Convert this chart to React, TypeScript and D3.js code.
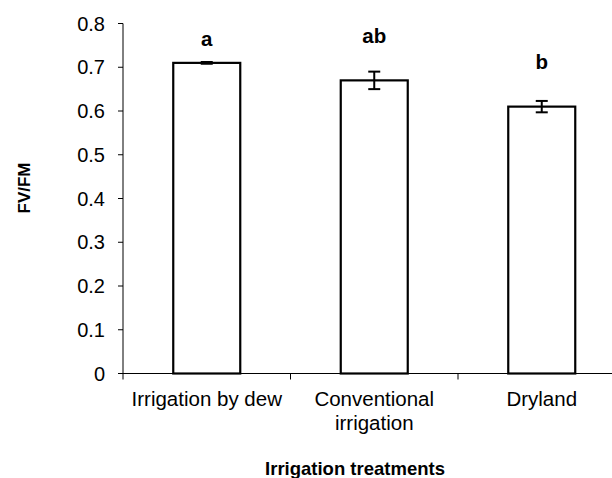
import React from "react";
import { scaleBand, scaleLinear } from "d3";

const categories = ["Irrigation by dew", "Conventional irrigation", "Dryland"];
const categoryLines = [["Irrigation by dew"], ["Conventional", "irrigation"], ["Dryland"]];
const fvfm = [0.71, 0.67, 0.61];
const stdErr = [0.002, 0.02, 0.013];
const letters = ["a", "ab", "b"];
const letterAt = [0.748, 0.755, 0.696];
const yTicks = [0, 0.1, 0.2, 0.3, 0.4, 0.5, 0.6, 0.7, 0.8];

const W = 612;
const H = 478;
const left = 123;
const top = 23.5;
const bottom = 373.5;
const font = "'Liberation Sans', Arial, sans-serif";

const App = () => {
  const x = scaleBand<string>()
    .domain(categories)
    .range([left, left + 502.5])
    .paddingInner(0.6)
    .paddingOuter(0.3);
  const y = scaleLinear().domain([0, 0.8]).range([bottom, top]);
  const step = x.step();
  const bw = x.bandwidth();

  return (
    <svg
      width={W}
      height={H}
      style={{ position: "absolute", left: 0, top: 0, background: "#fff" }}
      fontFamily={font}
    >
      {/* bars */}
      {categories.map((c, i) => (
        <rect
          key={c}
          x={x(c)!}
          y={y(fvfm[i])}
          width={bw}
          height={bottom - y(fvfm[i])}
          fill="#fff"
          stroke="#000"
          strokeWidth={2.2}
        />
      ))}

      {/* error bars */}
      {categories.map((c, i) => {
        const cx = x(c)! + bw / 2;
        const hi = y(fvfm[i] + stdErr[i]);
        const lo = y(fvfm[i] - stdErr[i]);
        return (
          <g key={"e" + c} stroke="#000" strokeWidth={2}>
            <line x1={cx} x2={cx} y1={hi} y2={lo} />
            <line x1={cx - 6} x2={cx + 6} y1={hi} y2={hi} />
            <line x1={cx - 6} x2={cx + 6} y1={lo} y2={lo} />
          </g>
        );
      })}

      {/* significance letters */}
      {categories.map((c, i) => (
        <text
          key={"l" + c}
          x={x(c)! + bw / 2}
          y={y(letterAt[i])}
          textAnchor="middle"
          fontWeight="bold"
          fontSize={20.5}
        >
          {letters[i]}
        </text>
      ))}

      {/* y axis */}
      <line x1={left} x2={left} y1={top} y2={bottom} stroke="#000" strokeWidth={1} />
      {yTicks.map((t) => (
        <g key={t}>
          <line x1={left - 5} x2={left} y1={y(t)} y2={y(t)} stroke="#000" strokeWidth={1} />
          <text x={105} y={y(t) + 7} textAnchor="end" fontSize={20}>
            {t === 0 ? "0" : t.toFixed(1)}
          </text>
        </g>
      ))}

      {/* x axis */}
      <line x1={left} x2={W} y1={bottom} y2={bottom} stroke="#000" strokeWidth={1} />
      {[0, 1, 2, 3].map((k) => (
        <line
          key={k}
          x1={left + k * step}
          x2={left + k * step}
          y1={bottom}
          y2={bottom + 6}
          stroke="#000"
          strokeWidth={1}
        />
      ))}
      {categories.map((c, i) => (
        <text key={"c" + c} x={x(c)! + bw / 2} y={406} textAnchor="middle" fontSize={20.5}>
          {categoryLines[i].map((ln, j) => (
            <tspan key={j} x={x(c)! + bw / 2} dy={j === 0 ? 0 : 23.5}>
              {ln}
            </tspan>
          ))}
        </text>
      ))}

      {/* axis titles */}
      <text x={355} y={475} textAnchor="middle" fontWeight="bold" fontSize={18.5}>
        Irrigation treatments
      </text>
      <text
        transform="translate(30,188) rotate(-90)"
        textAnchor="middle"
        fontWeight="bold"
        fontSize={17}
      >
        FV/FM
      </text>
    </svg>
  );
};

export default App;
